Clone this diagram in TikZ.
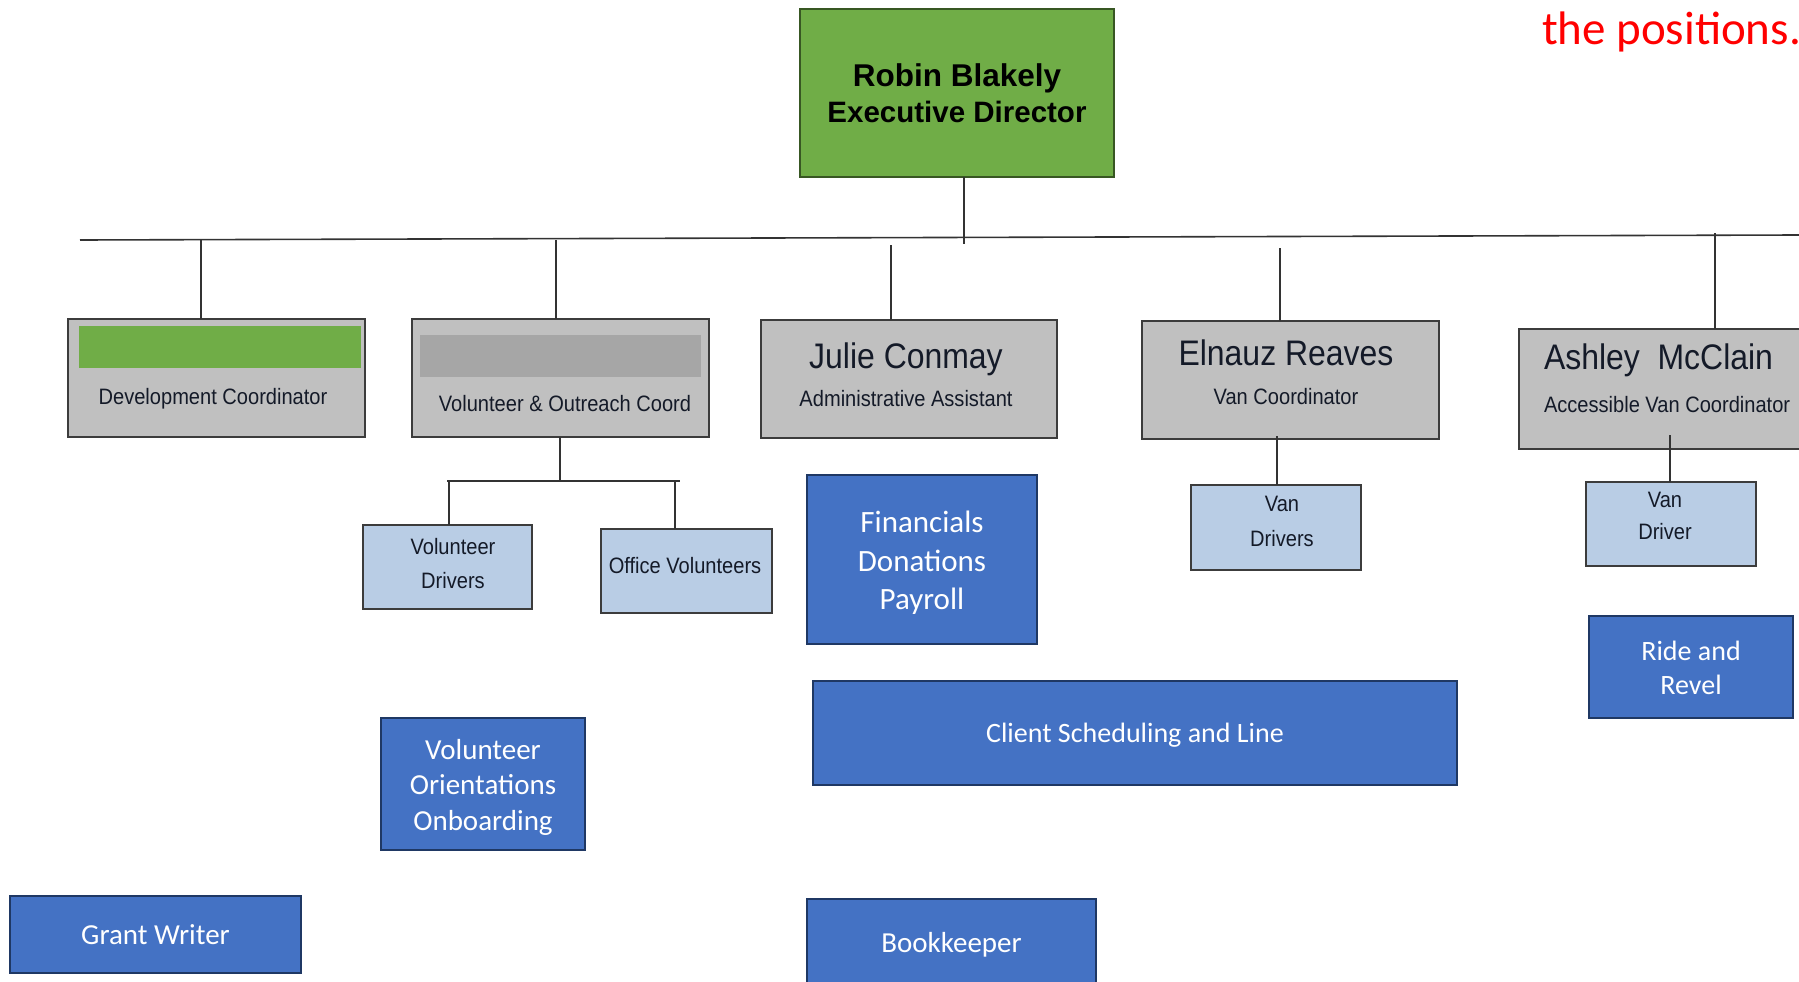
\documentclass[tikz,border=0pt]{standalone}
\usepackage{fontspec}
\setmainfont{Liberation Sans}
\newfontfamily\narrowfont[FakeStretch=0.9]{Liberation Sans}
\newfontfamily\calfont{Carlito}
\definecolor{execgreen}{HTML}{70AD47}
\definecolor{execedge}{HTML}{385723}
\definecolor{boxgray}{HTML}{C0C0C0}
\definecolor{boxedge}{HTML}{3C3C3C}
\definecolor{bargray}{HTML}{A6A6A6}
\definecolor{lightblue}{HTML}{B9CDE5}
\definecolor{midblue}{HTML}{4472C4}
\definecolor{navyedge}{HTML}{1F3864}
\definecolor{linegray}{HTML}{333333}
\definecolor{txtdark}{HTML}{141A28}
\definecolor{notered}{HTML}{FF0000}
\begin{document}
\begin{tikzpicture}[x=1pt,y=-1pt,
  every node/.style={inner sep=0pt, outer sep=0pt},
  execbox/.style={draw=execedge, fill=execgreen, line width=2.5pt, anchor=north west},
  graybox/.style={draw=boxedge, fill=boxgray, line width=2.5pt, anchor=north west},
  lbbox/.style={draw=boxedge, fill=lightblue, line width=2.2pt, anchor=north west},
  bluebox/.style={draw=navyedge, fill=midblue, line width=2.5pt, anchor=north west},
  bluetext/.style={text=white, align=center},
  bar/.style={anchor=north west, draw=none},
  exectext/.style={anchor=base, font=\bfseries\fontsize{29.5}{36}\selectfont},
  nametext/.style={anchor=base, text=txtdark, font=\narrowfont\fontsize{35.5}{40}\selectfont},
  subtext/.style={anchor=base, text=txtdark, font=\narrowfont\fontsize{22.3}{26}\selectfont},
  conn/.style={draw=linegray, line width=1.6pt},
]
\useasboundingbox (0,0) rectangle (1799,982);
\clip (0,0) rectangle (1799,982);
\fill[white] (0,0) rectangle (1799,982);

% executive
\node[execbox, minimum width=314, minimum height=168] (exec) at (800,9) {};
\node[exectext, font=\bfseries\fontsize{31.5}{36}\selectfont] (execname) at (957,86) {Robin Blakely};
\node[exectext] (exectitle) at (957,122) {Executive Director};

% red note
\node[anchor=base west, text=notered, font=\calfont\fontsize{47}{52}\selectfont] (note) at (1542,44.5) {the positions.};

% second-level boxes
\node[graybox, minimum width=297, minimum height=118] (dev) at (68,319) {};
\node[bar, fill=execgreen, minimum width=282, minimum height=42] (devbar) at (79,326) {};
\node[subtext] (devtitle) at (213,404) {Development Coordinator};

\node[graybox, minimum width=297, minimum height=118] (vol) at (412,319) {};
\node[bar, fill=bargray, minimum width=281, minimum height=42] (volbar) at (420,335) {};
\node[subtext] (voltitle) at (565,411) {Volunteer \& Outreach Coord};

\node[graybox, minimum width=296, minimum height=118] (julie) at (761,320) {};
\node[nametext] (juliename) at (906,368) {Julie Conmay};
\node[subtext] (julietitle) at (906,406) {Administrative Assistant};

\node[graybox, minimum width=297, minimum height=118] (elnauz) at (1142,321) {};
\node[nametext] (elnauzname) at (1286,365) {Elnauz Reaves};
\node[subtext] (elnauztitle) at (1286,404) {Van Coordinator};

\node[graybox, minimum width=330, minimum height=120] (ashley) at (1519,329) {};
\node[nametext, anchor=base west] (ashleyname) at (1544,369) {Ashley\ \ McClain};
\node[subtext, anchor=base west] (ashleytitle) at (1544,412) {Accessible Van Coordinator};

% third-level boxes
\node[lbbox, minimum width=169, minimum height=84] (voldrv) at (363,525) {};
\node[subtext] (voldrva) at (453,554) {Volunteer};
\node[subtext] (voldrvb) at (453,588.5) {Drivers};

\node[lbbox, minimum width=171, minimum height=84] (officevol) at (601,529) {};
\node[subtext] (officevolt) at (685,573.5) {Office Volunteers};

\node[lbbox, minimum width=170, minimum height=85] (vandrv) at (1191,485) {};
\node[subtext] (vandrva) at (1282,511.5) {Van};
\node[subtext] (vandrvb) at (1282,546) {Drivers};

\node[lbbox, minimum width=170, minimum height=84] (vandrvtwo) at (1586,482) {};
\node[subtext] (vandrvtwoa) at (1665,507) {Van};
\node[subtext] (vandrvtwob) at (1665,539) {Driver};

% blue task boxes
\node[bluebox, minimum width=230, minimum height=169] (fin) at (807,475) {};
\node[bluetext, font=\calfont\fontsize{31}{38.5}\selectfont] (fint) at ([yshift=-3.5pt]fin.center) {Financials\\Donations\\Payroll};
\node[bluebox, minimum width=644, minimum height=104] (client) at (813,681) {};
\node[bluetext, font=\calfont\fontsize{28}{34}\selectfont] (clientt) at ([yshift=-2pt]client.center) {Client Scheduling and Line};
\node[bluebox, minimum width=204, minimum height=102] (ride) at (1589,616) {};
\node[bluetext, font=\calfont\fontsize{28}{33.5}\selectfont] (ridet) at ([yshift=-1pt]ride.center) {Ride and\\Revel};
\node[bluebox, minimum width=204, minimum height=132] (orient) at (381,718) {};
\node[bluetext, font=\calfont\fontsize{29}{35.5}\selectfont] (orientt) at ([yshift=-3pt]orient.center) {Volunteer\\Orientations\\Onboarding};
\node[bluebox, minimum width=291, minimum height=77] (grant) at (10,896) {};
\node[bluetext, font=\calfont\fontsize{29}{35}\selectfont] (grantt) at (grant.center) {Grant Writer};
\node[bluebox, minimum width=289, minimum height=95] (book) at (807,899) {};
\node[bluetext, font=\calfont\fontsize{29}{35}\selectfont] (bookt) at ([yshift=1.5pt]book.center) {Bookkeeper};

% connectors
\coordinate (busL) at (80,240);
\coordinate (busR) at (1799,235);
\draw[conn] (busL) -- (busR);
\coordinate (estem) at (964,244);
\draw[conn] (exec.south -| estem) -- (estem);
\coordinate (sdev) at (201,240);
\coordinate (svol) at (556,240);
\coordinate (sjulie) at (891,245);
\coordinate (selnauz) at (1280,248);
\coordinate (sashley) at (1715,233);
\draw[conn] (sdev) -- (sdev |- dev.north);
\draw[conn] (svol) -- (svol |- vol.north);
\draw[conn] (sjulie) -- (sjulie |- julie.north);
\draw[conn] (selnauz) -- (selnauz |- elnauz.north);
\draw[conn] (sashley) -- (sashley |- ashley.north);

\coordinate (vdown) at (560,481);
\coordinate (vsubL) at (447,481);
\coordinate (vsubR) at (680,481);
\draw[conn] (vdown |- vol.south) -- (vdown);
\draw[conn] (vsubL) -- (vsubR);
\coordinate (svd) at (449,481);
\coordinate (sov) at (675,481);
\draw[conn] (svd) -- (svd |- voldrv.north);
\draw[conn] (sov) -- (sov |- officevol.north);

\coordinate (edown) at (1277,436);
\draw[conn] (edown) -- (edown |- vandrv.north);
\coordinate (adown) at (1670,435);
\draw[conn] (adown) -- (adown |- vandrvtwo.north);
\end{tikzpicture}
\end{document}
